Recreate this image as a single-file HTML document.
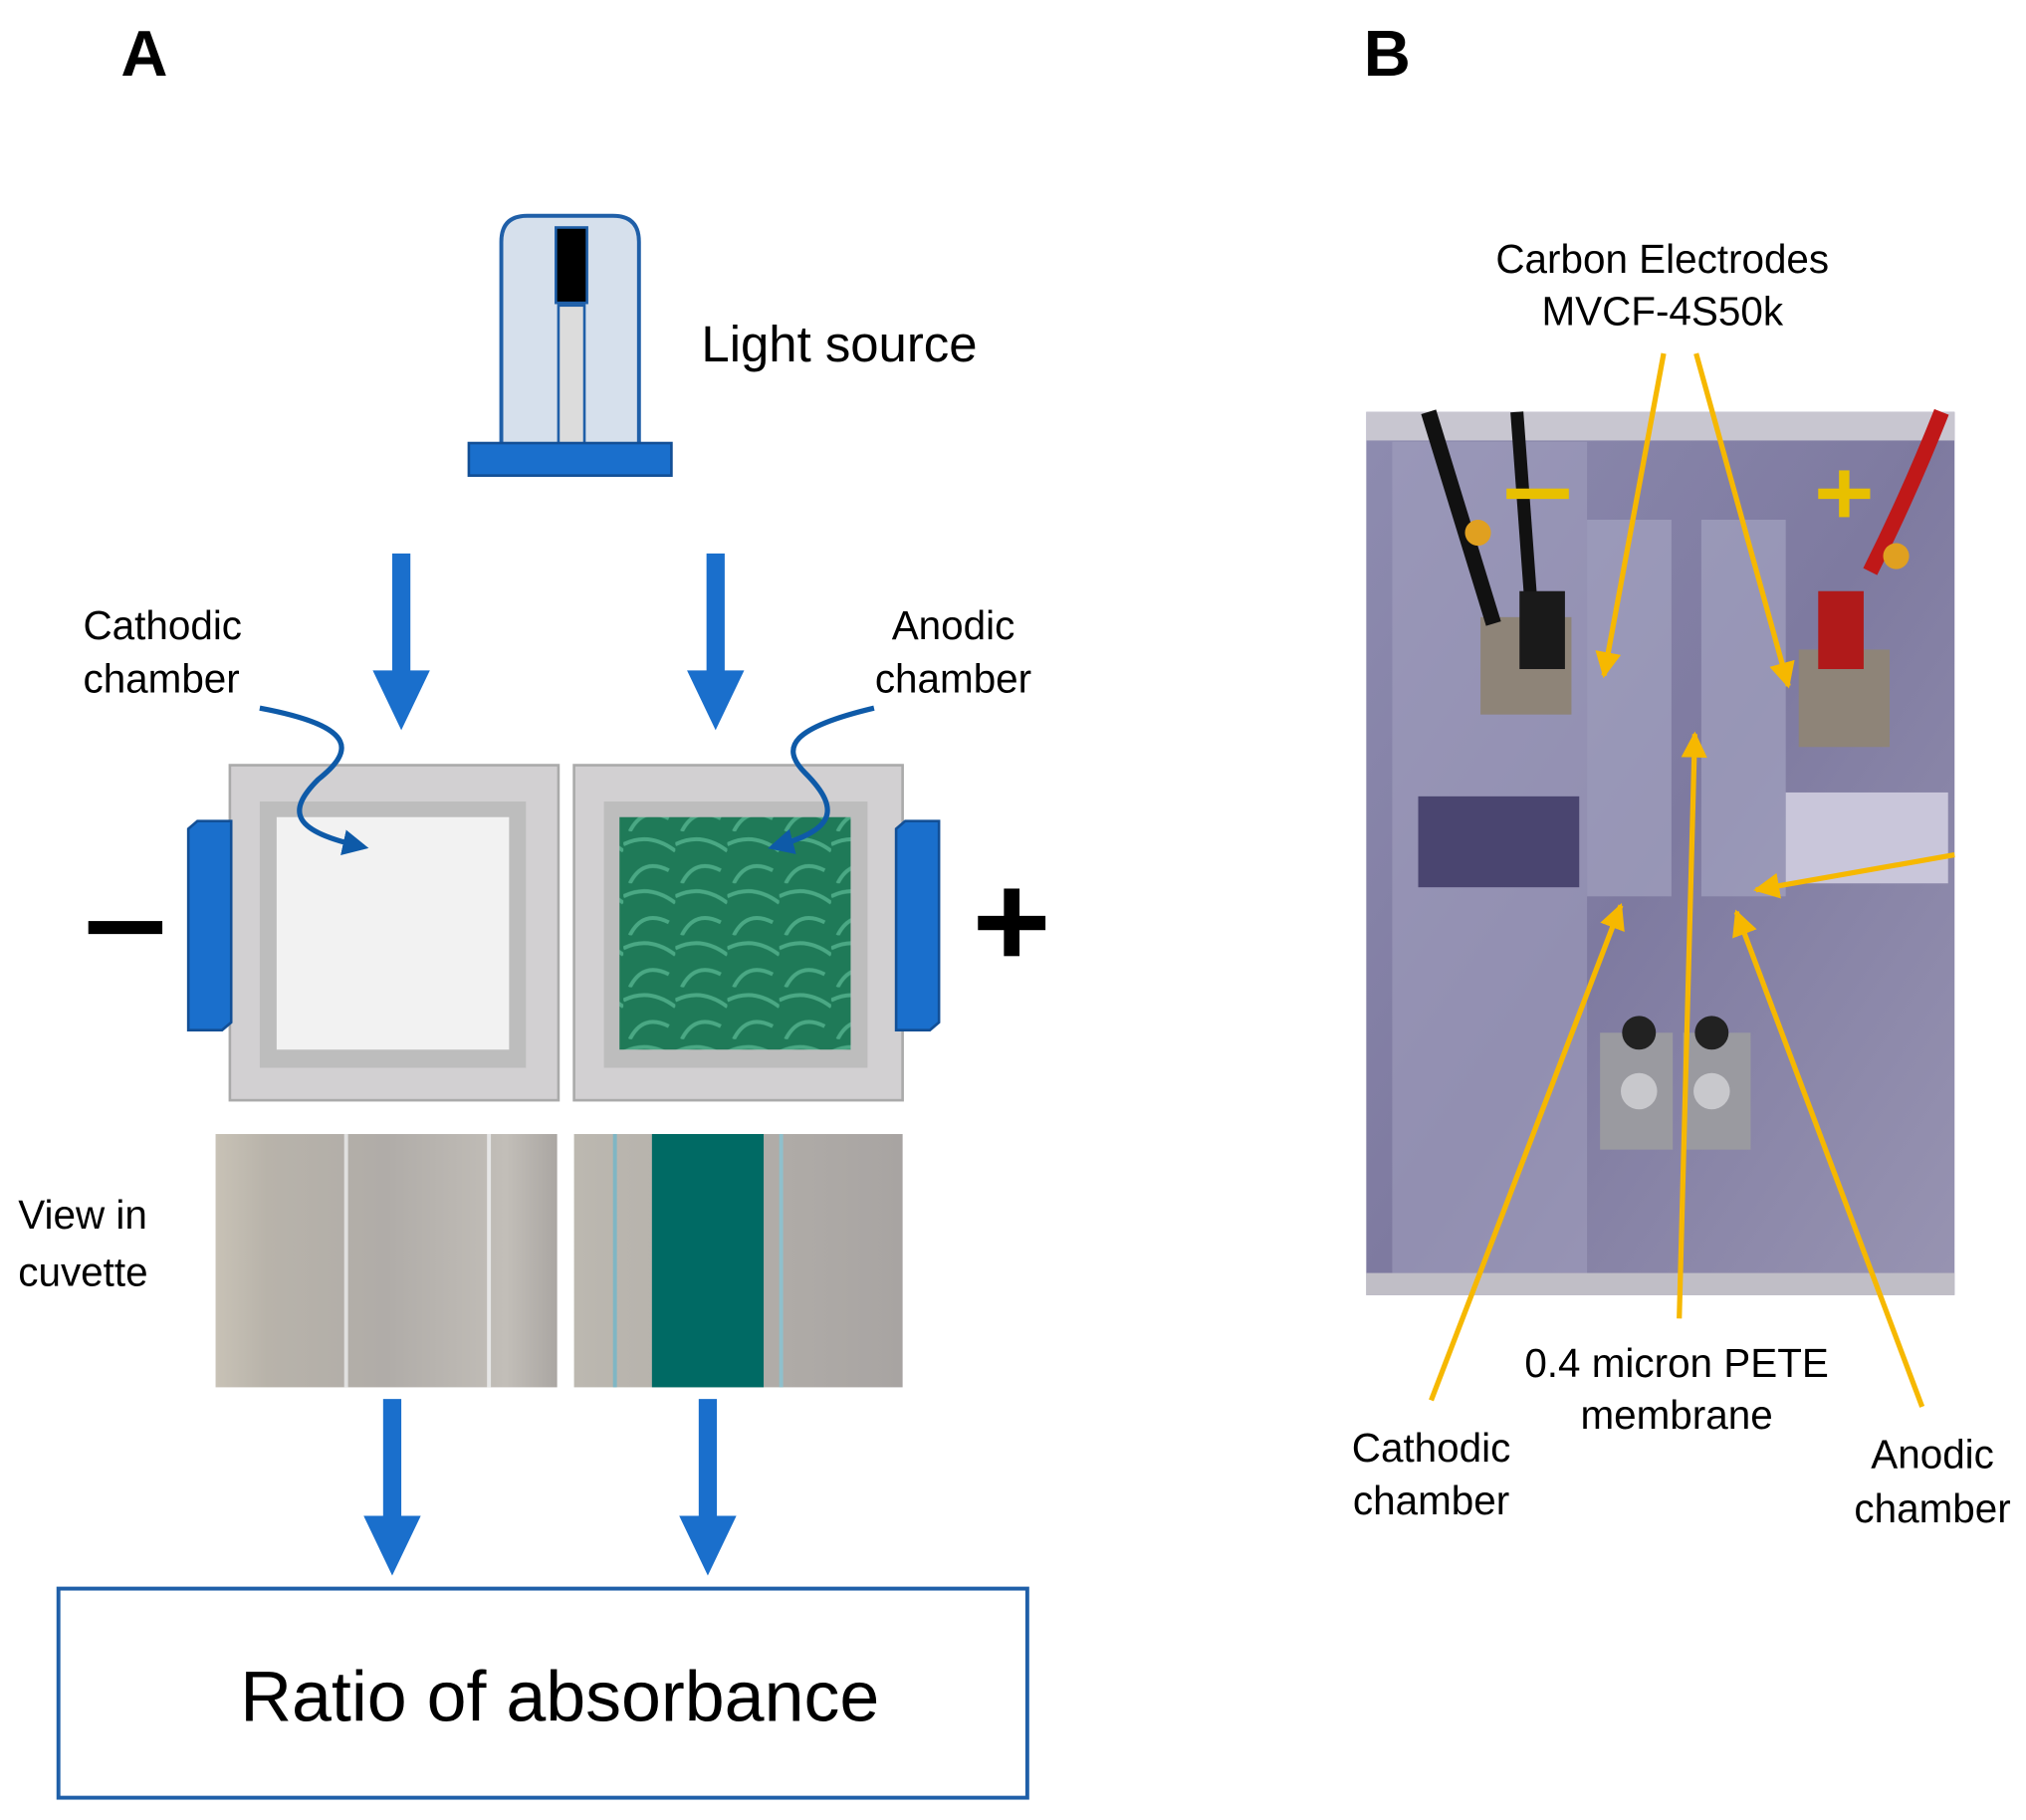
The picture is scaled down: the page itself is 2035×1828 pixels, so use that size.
<!DOCTYPE html>
<html><head><meta charset="utf-8"><style>html,body{margin:0;padding:0;background:#fff}svg{display:block}text{font-family:"Liberation Sans",Arial,sans-serif}</style></head>
<body>
<svg width="2035" height="1828" viewBox="0 0 1560 1401" xmlns="http://www.w3.org/2000/svg">
<defs>
<marker id="bh" viewBox="0 0 10 10" refX="8" refY="5" markerWidth="5" markerHeight="5" orient="auto"><path d="M0,0 L10,5 L0,10 z" fill="#0e5aa8"/></marker>
<marker id="yh" viewBox="0 0 10 10" refX="9" refY="5" markerWidth="5" markerHeight="5" orient="auto"><path d="M0,0 L10,5 L0,10 z" fill="#f6b800"/></marker>
<linearGradient id="cuvL" x1="0" x2="1"><stop offset="0" stop-color="#c8c2b6"/><stop offset="0.15" stop-color="#b8b3aa"/><stop offset="0.5" stop-color="#b0aca8"/><stop offset="0.85" stop-color="#c2beb8"/><stop offset="1" stop-color="#aaa6a2"/></linearGradient>
<linearGradient id="cuvR" x1="0" x2="1"><stop offset="0" stop-color="#bcb8b0"/><stop offset="1" stop-color="#a8a4a2"/></linearGradient>
<linearGradient id="photo" x1="0" x2="1" y1="0" y2="1"><stop offset="0" stop-color="#8e8cb0"/><stop offset="0.5" stop-color="#7e7aa0"/><stop offset="1" stop-color="#9894b2"/></linearGradient>
<pattern id="gr" width="40" height="40" patternUnits="userSpaceOnUse"><rect width="40" height="40" fill="#1f7a58"/><path d="M0,10 Q20,0 40,15 M5,40 Q15,20 35,30" stroke="#4aa884" stroke-width="3" fill="none"/></pattern>
</defs>
<text x="93" y="58" font-size="50" font-weight="bold">A</text>
<text x="1050" y="58" font-size="50" font-weight="bold">B</text>
<path d="M386,345 V186 Q386,166 406,166 H472 Q492,166 492,186 V345 Z" fill="#d6e0ec" stroke="#1f5fa8" stroke-width="3"/>
<rect x="428" y="175" width="24" height="58" fill="#000" stroke="#1f5fa8" stroke-width="2"/>
<rect x="430" y="235" width="20" height="108" fill="#dcdcdc" stroke="#1f5fa8" stroke-width="2"/>
<rect x="361" y="341" width="156" height="25" fill="#1a6fcc" stroke="#124f96" stroke-width="2"/>
<text x="540" y="278" font-size="39">Light source</text>
<g fill="#1a6fcc">
<rect x="302" y="426" width="14" height="92"/><path d="M287,516 H331 L309,562 Z"/>
<rect x="544" y="426" width="14" height="92"/><path d="M529,516 H573 L551,562 Z"/>
<rect x="295" y="1077" width="14" height="92"/><path d="M280,1167 H324 L302,1213 Z"/>
<rect x="538" y="1077" width="14" height="92"/><path d="M523,1167 H567 L545,1213 Z"/>
</g>
<text font-size="31" x="64" y="492">Cathodic</text><text font-size="31" x="64" y="533">chamber</text>
<text font-size="31" x="734" y="492" text-anchor="middle">Anodic</text><text font-size="31" x="734" y="533" text-anchor="middle">chamber</text>
<rect x="177" y="589" width="253" height="258" fill="#d2d0d2" stroke="#aaa" stroke-width="2"/>
<rect x="200" y="617" width="205" height="205" fill="#bdbdbd"/>
<rect x="213" y="629" width="179" height="179" fill="#f2f2f2"/>
<rect x="442" y="589" width="253" height="258" fill="#d2d0d2" stroke="#aaa" stroke-width="2"/>
<rect x="465" y="617" width="203" height="205" fill="#bdbdbd"/>
<rect x="477" y="629" width="178" height="179" fill="url(#gr)"/>
<path d="M200,545 C280,560 270,580 245,600 C220,625 225,640 280,652" stroke="#0e5aa8" stroke-width="4" fill="none" marker-end="url(#bh)"/>
<path d="M673,545 C610,560 600,575 620,595 C650,625 640,640 595,652" stroke="#0e5aa8" stroke-width="4" fill="none" marker-end="url(#bh)"/>
<path d="M145,638 L152,632 H178 V787 L171,793 H145 Z" fill="#1a6fcc" stroke="#124f96" stroke-width="2"/>
<path d="M690,638 L697,632 H723 V787 L716,793 H690 Z" fill="#1a6fcc" stroke="#124f96" stroke-width="2"/>
<rect x="68" y="709" width="57" height="10" fill="#000"/>
<rect x="753" y="705" width="52" height="11" fill="#000"/><rect x="773" y="684" width="12" height="52" fill="#000"/>
<rect x="166" y="873" width="263" height="195" fill="url(#cuvL)"/>
<rect x="265" y="873" width="3" height="195" fill="#e0e0e0"/><rect x="375" y="873" width="3" height="195" fill="#e6e6e6"/>
<rect x="442" y="873" width="253" height="195" fill="url(#cuvR)"/>
<rect x="502" y="873" width="86" height="195" fill="#006a64"/>
<rect x="472" y="873" width="3" height="195" fill="#7fb6c4"/><rect x="600" y="873" width="3" height="195" fill="#8fc0cc"/>
<text font-size="31" x="14" y="946">View in</text><text font-size="31" x="14" y="990">cuvette</text>
<rect x="45" y="1223" width="746" height="161" fill="#fff" stroke="#1f5fa8" stroke-width="3"/>
<text x="431" y="1325" font-size="55" text-anchor="middle">Ratio of absorbance</text>
<rect x="1052" y="317" width="453" height="680" fill="url(#photo)"/>
<rect x="1052" y="317" width="453" height="22" fill="#c8c6d0"/>
<rect x="1072" y="340" width="150" height="640" fill="#a6a4c2" opacity="0.5"/>
<rect x="1222" y="400" width="65" height="290" fill="#a8a8c4" opacity="0.6"/>
<rect x="1310" y="400" width="65" height="290" fill="#a8a8c4" opacity="0.6"/>
<rect x="1092" y="613" width="124" height="70" fill="#4a4570"/>
<rect x="1375" y="610" width="125" height="70" fill="#c9c6da"/>
<rect x="1140" y="475" width="70" height="75" fill="#8e8478"/>
<rect x="1385" y="500" width="70" height="75" fill="#8e8478"/>
<rect x="1232" y="795" width="56" height="90" fill="#9a9aa0"/>
<rect x="1296" y="795" width="52" height="90" fill="#9a9aa0"/>
<circle cx="1262" cy="795" r="13" fill="#222"/><circle cx="1318" cy="795" r="13" fill="#222"/>
<circle cx="1262" cy="840" r="14" fill="#c8c8cc"/><circle cx="1318" cy="840" r="14" fill="#c8c8cc"/>
<path d="M1100,317 L1150,480" stroke="#111" stroke-width="12"/><path d="M1168,317 L1180,480" stroke="#111" stroke-width="10"/>
<rect x="1170" y="455" width="35" height="60" fill="#1a1a1a"/>
<path d="M1495,317 Q1470,380 1440,440" stroke="#c01818" stroke-width="12" fill="none"/>
<rect x="1400" y="455" width="35" height="60" fill="#b01a1a"/>
<rect x="1160" y="376" width="48" height="8" fill="#e8c000"/>
<rect x="1400" y="376" width="40" height="8" fill="#e8c000"/><rect x="1416" y="362" width="8" height="36" fill="#e8c000"/>
<circle cx="1138" cy="410" r="10" fill="#e0a020"/><circle cx="1460" cy="428" r="10" fill="#e0a020"/>
<rect x="1052" y="980" width="453" height="17" fill="#c0bec6"/>
<g stroke="#f6b800" stroke-width="4" fill="none">
<path d="M1281,272 L1235,520" marker-end="url(#yh)"/>
<path d="M1306,272 L1377,528" marker-end="url(#yh)"/>
<path d="M1293,1015 L1305,565" marker-end="url(#yh)"/>
<path d="M1102,1078 L1248,697" marker-end="url(#yh)"/>
<path d="M1480,1083 L1337,702" marker-end="url(#yh)"/>
<path d="M1505,658 L1352,685" marker-end="url(#yh)"/>
</g>
<g font-size="31" text-anchor="middle">
<text x="1280" y="210">Carbon Electrodes</text><text x="1280" y="250">MVCF-4S50k</text>
<text x="1291" y="1060">0.4 micron PETE</text><text x="1291" y="1100">membrane</text>
<text x="1102" y="1125">Cathodic</text><text x="1102" y="1166">chamber</text>
<text x="1488" y="1130">Anodic</text><text x="1488" y="1172">chamber</text>
</g>
</svg>
</body></html>
